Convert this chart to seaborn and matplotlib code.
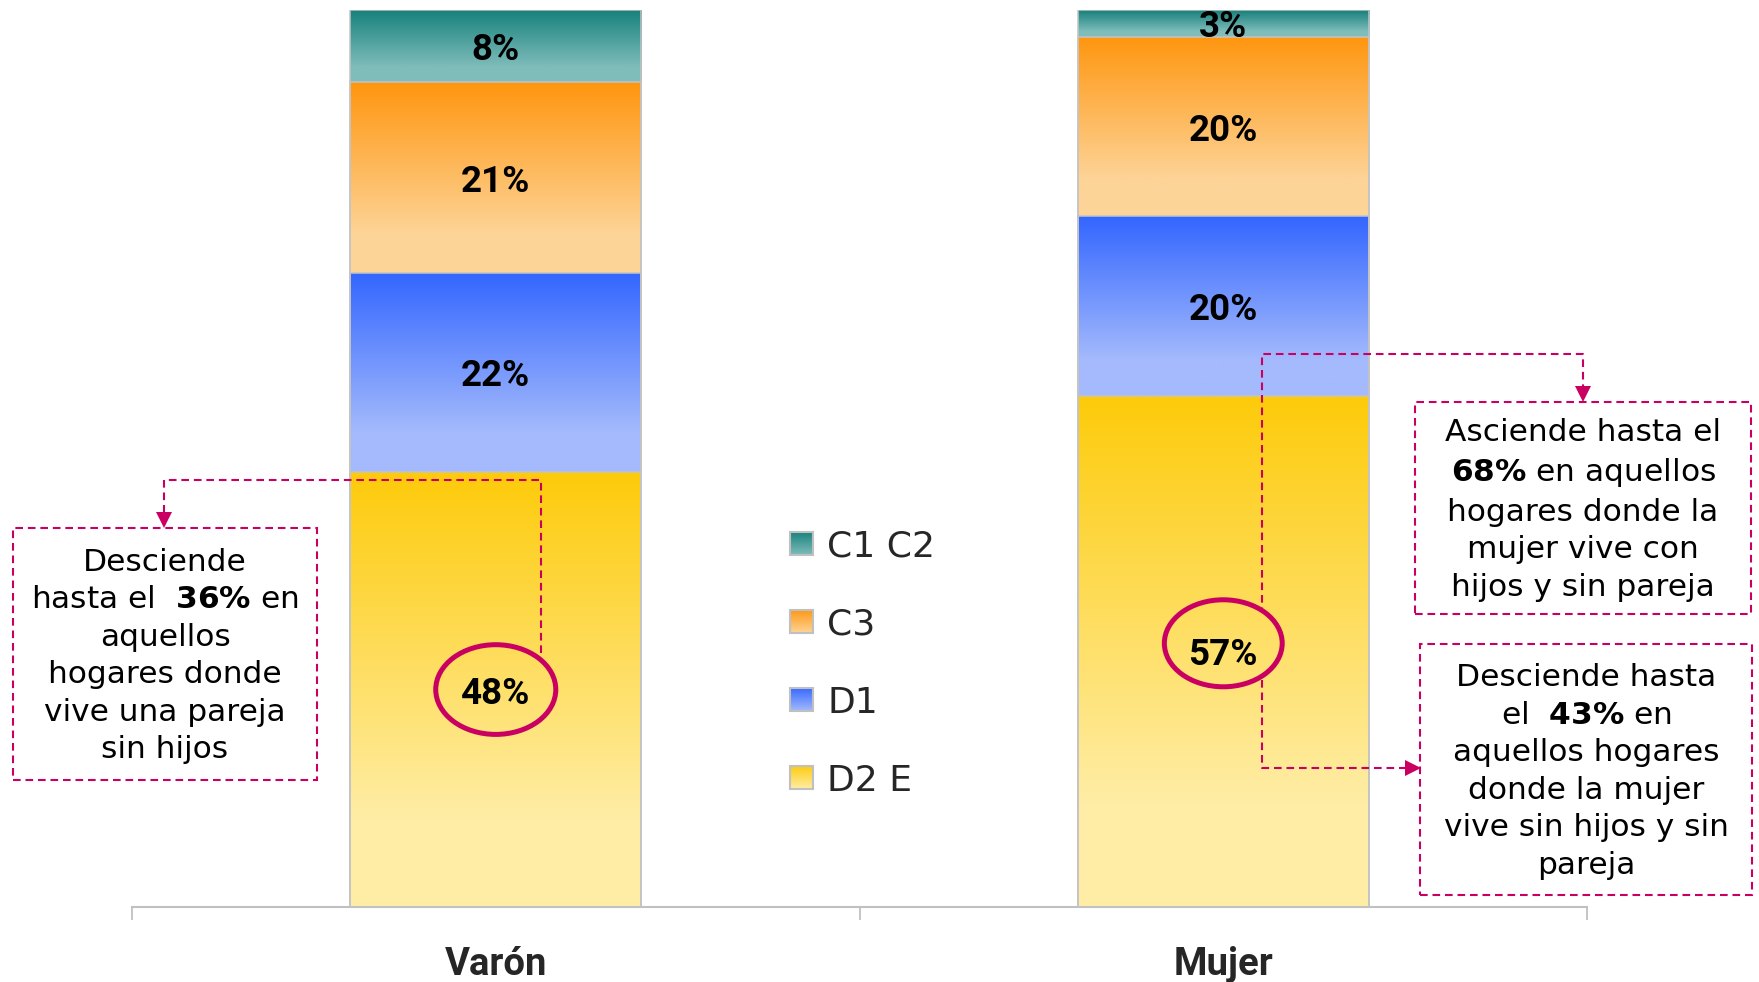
import numpy as np
import pandas as pd
import matplotlib
matplotlib.use("Agg")
import matplotlib.pyplot as plt
import seaborn as sns
from matplotlib.patches import Rectangle, Ellipse
from matplotlib.legend_handler import HandlerBase
from matplotlib.image import BboxImage
from matplotlib.transforms import Bbox, TransformedBbox
from matplotlib.colors import to_rgb

# ---- data -------------------------------------------------------------
groups = ["Varón", "Mujer"]
strata = ["D2 E", "D1", "C3", "C1 C2"]          # stacked bottom -> top
d2e = [48, 57]
d1 = [22, 20]
c3 = [21, 20]
c1c2 = [8, 3]

# ---- styling ----------------------------------------------------------
grad_top = {"D2 E": "#fdcb0a", "D1": "#3366ff", "C3": "#ff960f", "C1 C2": "#16807b"}
grad_bottom = {"D2 E": "#ffeda6", "D1": "#a4bafc", "C3": "#fdd498", "C1 C2": "#7fbdbb"}
EDGE = "#c4c4c4"
ACCENT = "#c90062"
BOLD_FAMILY = "Roboto"

sns.set_theme(style="white")
plt.rcParams["font.family"] = ["DejaVu Sans"]
plt.rcParams["mathtext.fontset"] = "dejavusans"
plt.rcParams["lines.scale_dashes"] = False


def gradient(top, bottom, reach=0.8, n=256):
    t = np.linspace(0, 1, n)
    f = np.clip(t / reach, 0, 1)[:, None]
    c = np.array(to_rgb(top))[None, :] * (1 - f) + np.array(to_rgb(bottom))[None, :] * f
    return c[:, None, :]


# long table with percentage shares of each column
values = {"D2 E": d2e, "D1": d1, "C3": c3, "C1 C2": c1c2}
rows = []
for j, g in enumerate(groups):
    total = sum(values[s][j] for s in strata)
    base = 0.0
    for s in strata:
        v = values[s][j]
        share = v / total * 100
        rows.append(dict(group=g, stratum=s, value=v, bottom=base, top=base + share))
        base += share
df = pd.DataFrame(rows)

fig = plt.figure(figsize=(17.59, 9.82), dpi=100)
ax = fig.add_axes([0.07504, 0.07637, 0.8272, 0.91345])

# cumulative bars, tallest first so every layer shows its own segment
bar_patches = {}
for s in reversed(strata):
    n0 = len(ax.patches)
    sns.barplot(data=df[df.stratum == s], x="group", y="top", order=groups,
                width=0.4, color=grad_top[s], edgecolor=EDGE, linewidth=1.1,
                errorbar=None, ax=ax)
    bar_patches[s] = ax.patches[n0:]

for s in strata:
    sub = df[df.stratum == s].set_index("group")
    for j, p in enumerate(bar_patches[s]):
        g = groups[j]
        x0, w = p.get_x(), p.get_width()
        y0, y1 = sub.loc[g, "bottom"], sub.loc[g, "top"]
        p.set_facecolor("none")
        p.set_zorder(3)
        ax.imshow(gradient(grad_top[s], grad_bottom[s]), extent=(x0, x0 + w, y0, y1),
                  origin="upper", aspect="auto", interpolation="bilinear", zorder=2)
        ax.text(x0 + w / 2, (y0 + y1) / 2, f"{sub.loc[g, 'value']}%",
                ha="center", va="center_baseline", fontsize=26.5, fontweight="bold",
                family=BOLD_FAMILY, color="black", zorder=4)

# ---- axes --------------------------------------------------------------
ax.set_xlim(-0.5, 1.5)
ax.set_ylim(0, 100)
ax.set_xlabel("")
ax.set_ylabel("")
ax.set_yticks([])
ax.set_xticks([0, 1], labels=groups)
ax.set_xticks([-0.5, 0.5, 1.5], minor=True)
ax.tick_params(axis="x", which="major", length=0, pad=28)
ax.tick_params(axis="x", which="minor", length=9, width=1.3, color="#c0c0c0",
               direction="out", bottom=True)
for lab in ax.get_xticklabels():
    lab.set_fontfamily(BOLD_FAMILY)
    lab.set_fontweight("bold")
    lab.set_fontsize(27.5)
for side in ["left", "right", "top"]:
    ax.spines[side].set_visible(False)
ax.spines["bottom"].set_color("#c0c0c0")
ax.spines["bottom"].set_linewidth(1.5)

# ---- highlight ellipses -------------------------------------------------
d2e_rows = df[df.stratum == "D2 E"].reset_index(drop=True)
ell_shift = [0.0, 0.9]
ell_size = [(0.165, 10.0), (0.162, 9.7)]
for j in range(len(groups)):
    yc = (d2e_rows.loc[j, "bottom"] + d2e_rows.loc[j, "top"]) / 2 + ell_shift[j]
    ax.add_patch(Ellipse((j, yc), ell_size[j][0], ell_size[j][1], fill=False,
                         edgecolor=ACCENT, linewidth=3.6, zorder=6, clip_on=False))

# ---- call-out boxes and connectors --------------------------------------
dash = (0, (5.5, 3.5))
line_kw = dict(color=ACCENT, linewidth=1.5, linestyle=dash, zorder=5, clip_on=False)


def box(x0, x1, y0, y1):
    ax.add_patch(Rectangle((x0, y0), x1 - x0, y1 - y0, fill=False, edgecolor=ACCENT,
                           linewidth=1.5, linestyle=dash, zorder=5, clip_on=False))


def head(x, y, marker):
    ax.plot([x], [y], marker=marker, markersize=11, color=ACCENT, markeredgewidth=0,
            linestyle="none", zorder=5, clip_on=False)


box_font = dict(ha="center", va="center", fontsize=22.5, linespacing=1.37,
                color="black", zorder=5, clip_on=False)

# Varón
box(-0.6636, -0.2457, 14.16, 42.25)
ax.text(-0.4546, 27.98,
        "Desciende\nhasta el  $\\mathbf{36\\%}$ en\naquellos\nhogares donde\n"
        "vive una pareja\nsin hijos", **box_font)
ax.plot([0.0622, 0.0622, -0.456, -0.456], [28.32, 47.60, 47.60, 43.3], **line_kw)
head(-0.456, 43.09, "v")

# Mujer
box(1.2636, 1.7254, 32.66, 56.34)
ax.text(1.4945, 44.28,
        "Asciende hasta el\n$\\mathbf{68\\%}$ en aquellos\nhogares donde la\n"
        "mujer vive con\nhijos y sin pareja", **box_font)
box(1.2704, 1.7268, 1.34, 29.32)
ax.text(1.4986, 15.13,
        "Desciende hasta\nel  $\\mathbf{43\\%}$ en\naquellos hogares\n"
        "donde la mujer\nvive sin hijos y sin\npareja", **box_font)
ax.plot([1.4945, 1.4945, 1.0533, 1.0533], [57.4, 61.65, 61.65, 33.1], **line_kw)
ax.plot([1.0533, 1.0533, 1.255], [25.3, 15.50, 15.50], **line_kw)
head(1.4945, 57.18, "v")
head(1.2601, 15.50, ">")

# ---- legend with gradient swatches --------------------------------------


class GradientSwatch(HandlerBase):
    def __init__(self, top, bottom):
        super().__init__()
        self.top, self.bottom = top, bottom

    def create_artists(self, legend, orig_handle, xdescent, ydescent, width, height,
                       fontsize, trans):
        side = min(width, height)
        x0 = -xdescent + (width - side) / 2
        y0 = -ydescent + (height - side) / 2
        bb = Bbox.from_bounds(x0, y0, side, side)
        img = BboxImage(TransformedBbox(bb, trans), interpolation="bilinear")
        img.set_data(gradient(self.top, self.bottom, reach=1.0))
        frame = Rectangle((x0, y0), side, side, facecolor="none", edgecolor="#c0c0c0",
                          linewidth=1.5, transform=trans)
        return [img, frame]


leg_order = list(reversed(strata))
handles = [Rectangle((0, 0), 1, 1) for _ in leg_order]
hmap = {h: GradientSwatch(grad_top[s], grad_bottom[s]) for h, s in zip(handles, leg_order)}
fig.legend(handles, leg_order, handler_map=hmap, loc="center left",
           bbox_to_anchor=(0.449, 0.3243), bbox_transform=fig.transFigure,
           frameon=False, fontsize=26, borderpad=0, borderaxespad=0,
           handlelength=0.64, handleheight=0.64, handletextpad=0.4, labelspacing=1.22)

fig.savefig("out.png", dpi=100, facecolor="white")
